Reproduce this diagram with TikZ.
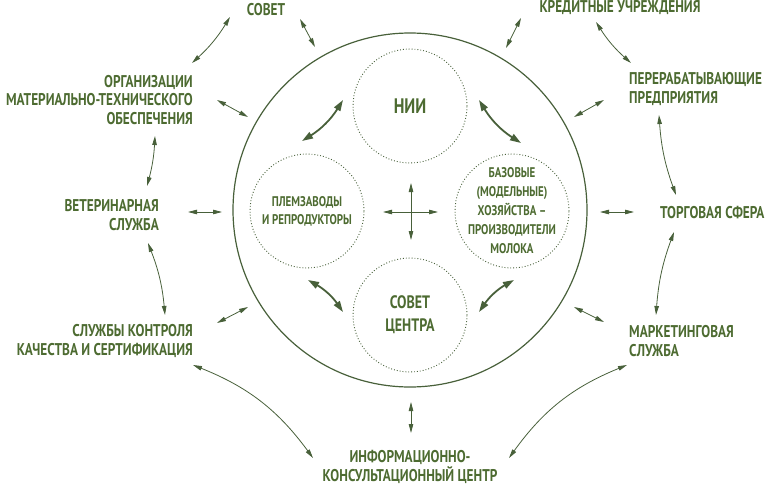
\documentclass[tikz,border=0pt]{standalone}
\usepackage{fontspec}
\setmainfont{PT Sans}[FakeStretch=0.78]
\usetikzlibrary{arrows.meta}
\definecolor{leaf}{HTML}{4D6B31}
\definecolor{leafdark}{HTML}{48603A}
\tikzset{
    unit/.style={font=\bfseries\fontsize{17}{19}\selectfont, text=leaf, inner sep=0pt},
    ring/.style={circle, draw=leafdark, line width=1.2pt, minimum size=354pt, inner sep=0pt},
    cell/.style={circle, draw=leafdark, dotted, line width=0.9pt, minimum size=114pt, inner sep=0pt},
    celltext/.style={text=leaf, inner sep=0pt, align=center},
    link/.style={draw=leafdark, line width=0.8pt,
        {Triangle[length=9pt,width=4.5pt]}-{Triangle[length=9pt,width=4.5pt]}},
    flow/.style={draw=leafdark, line width=1.8pt,
        {Triangle[length=11pt,width=7pt]}-{Triangle[length=11pt,width=7pt]}}
}
\begin{document}
\begin{tikzpicture}[x=1pt,y=-1pt]
\useasboundingbox (0,0) rectangle (768,487);
% centre
\node[ring] (main) at (410,210) {};
\node[cell] (nii) at (410,106) {};
\node[cell] (plem) at (307,211) {};
\node[cell] (baz) at (512,211) {};
\node[cell] (sovc) at (410,315) {};
\node[celltext, font=\bfseries\fontsize{21}{23}\selectfont] (niitext) at (nii) {НИИ};
\node[celltext, font=\bfseries\fontsize{14}{18}\selectfont] (plemtext) at (plem) {ПЛЕМЗАВОДЫ\\И РЕПРОДУКТОРЫ};
\node[celltext, font=\bfseries\fontsize{14}{19}\selectfont] (baztext) at (baz)
    {БАЗОВЫЕ\\(МОДЕЛЬНЫЕ)\\ХОЗЯЙСТВА –\\ПРОИЗВОДИТЕЛИ\\МОЛОКА};
\node[celltext, font=\bfseries\fontsize{18}{23}\selectfont] (sovctext) at (sovc) {СОВЕТ\\ЦЕНТРА};
% outer
\node[unit] (sovet) at (266,10) {СОВЕТ};
\node[unit] (kredit) at (620,8) {КРЕДИТНЫЕ УЧРЕЖДЕНИЯ};
\node[unit, anchor=east, align=right, font=\bfseries\fontsize{17}{18.5}\selectfont] (org) at (193,100)
    {ОРГАНИЗАЦИИ\\МАТЕРИАЛЬНО-ТЕХНИЧЕСКОГО\\ОБЕСПЕЧЕНИЯ};
\node[unit, anchor=west, align=left] (pererab) at (629,89) {ПЕРЕРАБАТЫВАЮЩИЕ\\ПРЕДПРИЯТИЯ};
\node[unit, anchor=east, align=right] (vet) at (159,215) {ВЕТЕРИНАРНАЯ\\СЛУЖБА};
\node[unit, anchor=west] (torg) at (660,213) {ТОРГОВАЯ СФЕРА};
\node[unit, anchor=east, align=right] (kontrol) at (193,341) {СЛУЖБЫ КОНТРОЛЯ\\КАЧЕСТВА И СЕРТИФИКАЦИЯ};
\node[unit, anchor=west, align=left] (market) at (629,341) {МАРКЕТИНГОВАЯ\\СЛУЖБА};
\node[unit, align=center] (inform) at (410,467) {ИНФОРМАЦИОННО-\\КОНСУЛЬТАЦИОННЫЙ ЦЕНТР};
% links round the ring
\draw[link] ([shift={(-1,-37)}]org.east) to[bend right=8] ([shift={(-36,7)}]sovet.center);
\draw[link] ([shift={(-24,14)}]kredit.center) to[bend right=8] ([shift={(2,-26)}]pererab.west);
\draw[link] ([shift={(-38,36)}]org.east) to[bend left=6] ([shift={(-12,-29)}]vet.east);
\draw[link] ([shift={(30,26)}]pererab.west) to[bend right=8] ([shift={(16,-18)}]torg.west);
\draw[link] ([shift={(-11,28)}]vet.east) to[bend left=8] ([shift={(-28,-26)}]kontrol.east);
\draw[link] ([shift={(14,19)}]torg.west) to[bend right=8] ([shift={(27,-26)}]market.west);
\draw[link] ([shift={(0,24)}]kontrol.east) to[bend left=16] ([shift={(-97,-9)}]inform.center);
\draw[link] ([shift={(-2,24)}]market.west) to[bend right=16] ([shift={(99,-9)}]inform.center);
% links to the centre
\draw[link] ([shift={(34,9)}]sovet.center) -- ([shift={(-95,-163)}]main.center);
\draw[link] ([shift={(-99,10)}]kredit.center) -- ([shift={(96,-162)}]main.center);
\draw[link] ([shift={(24,0)}]org.east) -- ([shift={(-162,-93)}]main.center);
\draw[link] ([shift={(-25,11)}]pererab.west) -- ([shift={(164,-93)}]main.center);
\draw[link] ([shift={(29,-3)}]vet.east) -- ([shift={(-188,2)}]main.center);
\draw[link] ([shift={(-26,-1)}]torg.west) -- ([shift={(190,2)}]main.center);
\draw[link] ([shift={(24,-18)}]kontrol.east) -- ([shift={(-162,97)}]main.center);
\draw[link] ([shift={(-25,-19)}]market.west) -- ([shift={(164,97)}]main.center);
\draw[link] ([shift={(1,-34)}]inform.center) -- ([shift={(1,192)}]main.center);
% inside
\draw[flow] ([shift={(-67,-6)}]nii.center) to[bend left=13] ([shift={(-5,-70)}]plem.center);
\draw[flow] ([shift={(69,-6)}]nii.center) to[bend right=13] ([shift={(9,-68)}]baz.center);
\draw[flow] ([shift={(1,69)}]plem.center) to[bend left=13] ([shift={(-67,-3)}]sovc.center);
\draw[flow] ([shift={(2,69)}]baz.center) to[bend right=13] ([shift={(69,-3)}]sovc.center);
\draw[link] ([shift={(-27,2)}]main.center) -- ([shift={(28,2)}]main.center);
\draw[link] ([shift={(1,-27)}]main.center) -- ([shift={(1,30)}]main.center);
\end{tikzpicture}
\end{document}
